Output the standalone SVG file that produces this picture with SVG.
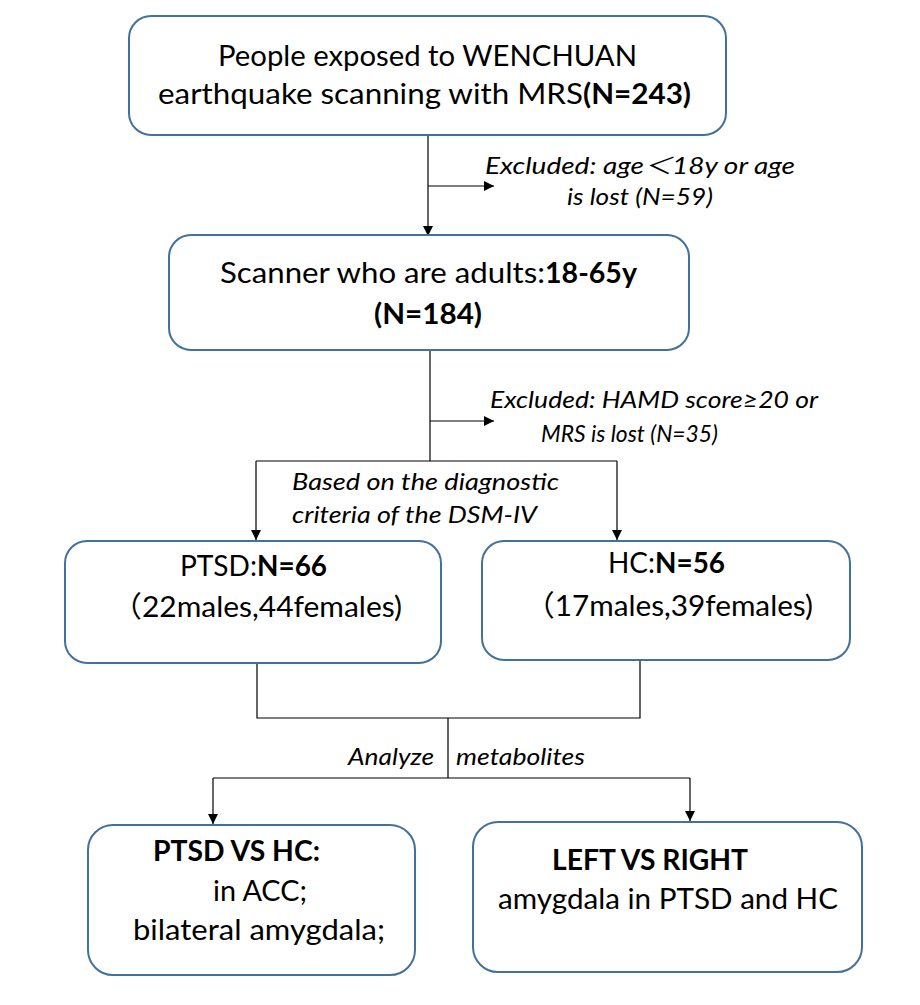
<svg xmlns="http://www.w3.org/2000/svg" width="920" height="1005" viewBox="0 0 920 1005">
<style>
.box{fill:#fff;stroke:#41719C;stroke-width:2}
.ln{fill:none;stroke:#000;stroke-width:1.2}
.t{font-family:Lato,"Open Sans","Noto Sans CJK SC",sans-serif;font-size:29px;fill:#000}
.b{font-weight:bold}
.i{font-family:Lato,"Open Sans","Noto Sans CJK SC",sans-serif;font-size:23px;font-style:italic;fill:#000}
</style>
<defs>
<marker id="ah" viewBox="0 0 10 10" refX="10" refY="5" markerWidth="10" markerHeight="10" markerUnits="userSpaceOnUse" orient="auto">
<path d="M0,0 L10,5 L0,10 z" fill="#000"/>
</marker>
</defs>
<rect width="920" height="1005" fill="#fff"/>
<g id="connectors">
<path class="ln" d="M428,135 V236" marker-end="url(#ah)"/>
<path class="ln" d="M428,186 H494" marker-end="url(#ah)"/>
<path class="ln" d="M430,350 V461"/>
<path class="ln" d="M430,421 H494" marker-end="url(#ah)"/>
<path class="ln" d="M256,461 H617"/>
<path class="ln" d="M256,461 V540" marker-end="url(#ah)"/>
<path class="ln" d="M617,461 V540" marker-end="url(#ah)"/>
<path class="ln" d="M257,663 V718 H640 V660"/>
<path class="ln" d="M448,718 V778"/>
<path class="ln" d="M213,778 H690"/>
<path class="ln" d="M213,778 V824" marker-end="url(#ah)"/>
<path class="ln" d="M690,778 V821" marker-end="url(#ah)"/>
</g>
<g id="n1">
<rect class="box" x="129" y="16" width="597" height="119" rx="22"/>
<text class="t" x="218" y="66" textLength="419" lengthAdjust="spacingAndGlyphs">People exposed to WENCHUAN</text>
<text class="t" y="104"><tspan x="158" textLength="425" lengthAdjust="spacingAndGlyphs">earthquake scanning with MRS</tspan><tspan class="b" x="583" textLength="108" lengthAdjust="spacingAndGlyphs">(N=243)</tspan></text>
</g>
<g id="ex1">
<text class="i" x="485" y="174" textLength="310" lengthAdjust="spacingAndGlyphs">Excluded: age＜18y  or age</text>
<text class="i" x="567" y="205" textLength="146" lengthAdjust="spacingAndGlyphs">is lost (N=59)</text>
</g>
<g id="n2">
<rect class="box" x="169" y="235" width="520" height="115" rx="22"/>
<text class="t" y="283"><tspan x="220" textLength="325" lengthAdjust="spacingAndGlyphs">Scanner who are adults:</tspan><tspan class="b" x="545" textLength="92" lengthAdjust="spacingAndGlyphs">18-65y</tspan></text>
<text class="t b" x="374" y="324" textLength="108" lengthAdjust="spacingAndGlyphs">(N=184)</text>
</g>
<g id="ex2">
<text class="i" x="490" y="408" textLength="328" lengthAdjust="spacingAndGlyphs">Excluded:  HAMD score≥20 or</text>
<text class="i" x="541" y="442" textLength="177" lengthAdjust="spacingAndGlyphs">MRS is lost (N=35)</text>
</g>
<g id="lbl-dsm">
<text class="i" x="292" y="490" textLength="267" lengthAdjust="spacingAndGlyphs">Based on the diagnostic</text>
<text class="i" x="292" y="523" textLength="245" lengthAdjust="spacingAndGlyphs">criteria of the DSM-IV</text>
</g>
<g id="n-ptsd">
<rect class="box" x="65" y="541" width="376" height="122" rx="22"/>
<text class="t" y="576"><tspan x="180" textLength="77" lengthAdjust="spacingAndGlyphs">PTSD:</tspan><tspan class="b" x="257" textLength="70" lengthAdjust="spacingAndGlyphs">N=66</tspan></text>
<text class="t" x="112" y="617" textLength="290" lengthAdjust="spacingAndGlyphs">（22males,44females)</text>
</g>
<g id="n-hc">
<rect class="box" x="482" y="541" width="368" height="119" rx="22"/>
<text class="t" y="573"><tspan x="608" textLength="47" lengthAdjust="spacingAndGlyphs">HC:</tspan><tspan class="b" x="655" textLength="70" lengthAdjust="spacingAndGlyphs">N=56</tspan></text>
<text class="t" x="525" y="616" textLength="288" lengthAdjust="spacingAndGlyphs">（17males,39females)</text>
</g>
<g id="lbl-analyze">
<text class="i" x="348" y="765" textLength="86" lengthAdjust="spacingAndGlyphs">Analyze</text>
<text class="i" x="456" y="765" textLength="129" lengthAdjust="spacingAndGlyphs">metabolites</text>
</g>
<g id="n-cmp1">
<rect class="box" x="88" y="825" width="327" height="150" rx="25"/>
<text class="t b" x="153" y="861" textLength="167" lengthAdjust="spacingAndGlyphs">PTSD VS HC:</text>
<text class="t" x="213" y="901" textLength="94" lengthAdjust="spacingAndGlyphs">in ACC;</text>
<text class="t" x="133" y="940" textLength="252" lengthAdjust="spacingAndGlyphs">bilateral amygdala;</text>
</g>
<g id="n-cmp2">
<rect class="box" x="473" y="822" width="389" height="150" rx="25"/>
<text class="t b" x="552" y="870" textLength="196" lengthAdjust="spacingAndGlyphs">LEFT VS RIGHT</text>
<text class="t" x="498" y="909" textLength="340" lengthAdjust="spacingAndGlyphs">amygdala in PTSD and HC</text>
</g>
</svg>
